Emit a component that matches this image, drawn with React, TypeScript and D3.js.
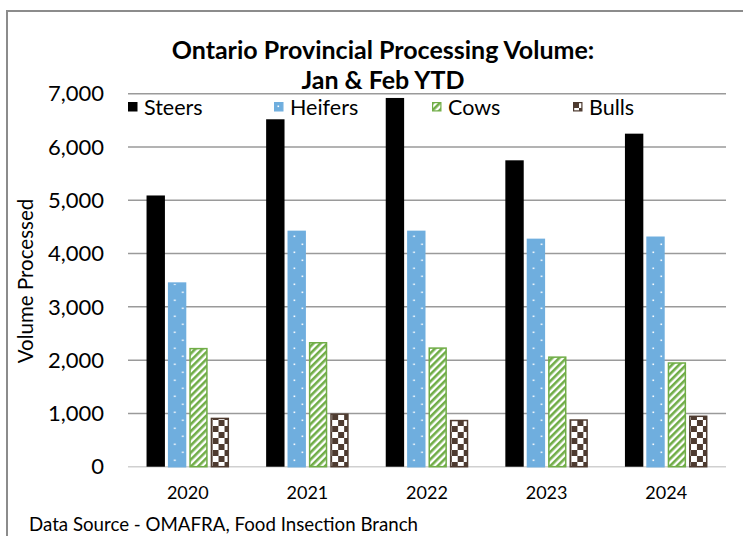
import { useMemo } from "react";
import { scaleBand, scaleLinear, format } from "d3";

const YEARS = ["2020", "2021", "2022", "2023", "2024"];
const SERIES = ["Steers", "Heifers", "Cows", "Bulls"];
const STEERS = [5090, 6520, 6920, 5750, 6250];
const HEIFERS = [3460, 4430, 4430, 4280, 4320];
const COWS = [2230, 2340, 2240, 2070, 1960];
const BULLS = [920, 1000, 880, 890, 960];
const Y_TICKS = [0, 1000, 2000, 3000, 4000, 5000, 6000, 7000];
const TITLE = ["Ontario Provincial Processing Volume:", "Jan & Feb YTD"];

const W = 743;
const H = 536;
const PLOT = { left: 128, right: 726, top: 93.7, bottom: 466.7 };
const FONT = "Lato, 'Open Sans', sans-serif";

const FILLS = ["#000000", "url(#dots)", "url(#stripes)", "url(#checks)"];
const STROKES = ["#000000", "#6FAEDE", "#70AD47", "#4E3B30"];
const LEGEND_X = [128, 274, 432, 573];

export default function App() {
  const values = [STEERS, HEIFERS, COWS, BULLS];

  const { x, xs, y } = useMemo(() => {
    const x = scaleBand<string>()
      .domain(YEARS)
      .range([PLOT.left, PLOT.right])
      .paddingInner(0.31)
      .paddingOuter(0.155);
    const xs = scaleBand<string>()
      .domain(SERIES)
      .range([0, x.bandwidth()])
      .paddingInner(0.14);
    const y = scaleLinear().domain([0, 7000]).range([PLOT.bottom, PLOT.top]);
    return { x, xs, y };
  }, []);

  const fmt = format(",");

  return (
    <svg
      width={W}
      height={H}
      viewBox={`0 0 ${W} ${H}`}
      style={{ position: "absolute", left: 0, top: 0, background: "#fff" }}
      fontFamily={FONT}
    >
      <defs>
        <pattern id="dots" width={16} height={16} patternUnits="userSpaceOnUse">
          <rect width={16} height={16} fill="#6FAEDE" />
          <rect x={3.5} y={3.5} width={1.6} height={1.6} fill="#fff" />
          <rect x={11.5} y={11.5} width={1.6} height={1.6} fill="#fff" />
        </pattern>
        <pattern
          id="stripes"
          width={5}
          height={5}
          patternUnits="userSpaceOnUse"
          patternTransform="rotate(45)"
        >
          <rect width={5} height={5} fill="#fff" />
          <rect width={2.6} height={5} fill="#70AD47" />
        </pattern>
        <pattern id="checks" width={12} height={12} patternUnits="userSpaceOnUse">
          <rect width={12} height={12} fill="#fff" />
          <rect width={6} height={6} fill="#4E3B30" />
          <rect x={6} y={6} width={6} height={6} fill="#4E3B30" />
        </pattern>
      </defs>

      {/* chart border */}
      <rect x={7} y={11} width={W + 10} height={H + 10} fill="none" stroke="#8c8c8c" strokeWidth={2} />

      {/* title, two lines */}
      {TITLE.map((line, i) => (
        <text
          key={line}
          x={383}
          y={58.5 + i * 30}
          textAnchor="middle"
          fontSize={25}
          fontWeight="bold"
          fill="#000"
        >
          {line}
        </text>
      ))}

      {/* grid and y labels */}
      {Y_TICKS.map((t) => (
        <g key={t}>
          <line
            x1={PLOT.left}
            x2={PLOT.right}
            y1={y(t)}
            y2={y(t)}
            stroke={t === 0 ? "#d0d0d0" : "#9a9a9a"}
            strokeWidth={1.5}
          />
          <text x={104} y={y(t)} dy="0.35em" textAnchor="end" fontSize={22} fill="#000">
            {fmt(t)}
          </text>
        </g>
      ))}

      {/* bars */}
      {YEARS.map((yr, i) => (
        <g key={yr} transform={`translate(${x(yr)},0)`}>
          {SERIES.map((s, k) => {
            const v = values[k][i];
            const inset = k === 0 ? 0 : 0.75;
            return (
              <rect
                key={s}
                x={(xs(s) ?? 0) + inset}
                y={y(v) + inset}
                width={xs.bandwidth() - inset * 2}
                height={y(0) - y(v) - inset}
                fill={FILLS[k]}
                stroke={k === 0 ? "none" : STROKES[k]}
                strokeWidth={1.5}
              />
            );
          })}
        </g>
      ))}

      {/* x labels */}
      {YEARS.map((yr) => (
        <text
          key={yr}
          x={(x(yr) ?? 0) + x.bandwidth() / 2}
          y={498.5}
          textAnchor="middle"
          fontSize={18}
          fill="#000"
        >
          {yr}
        </text>
      ))}

      {/* legend */}
      {SERIES.map((s, k) => (
        <g key={s} transform={`translate(${LEGEND_X[k]},102)`}>
          <rect
            x={k === 0 ? 0 : 0.6}
            y={k === 0 ? 0 : 0.6}
            width={k === 0 ? 9.5 : 8.3}
            height={k === 0 ? 9.5 : 8.3}
            fill={FILLS[k]}
            stroke={k === 0 ? "none" : STROKES[k]}
            strokeWidth={1.2}
          />
          <text x={16} y={5} dy="0.35em" fontSize={21.5} fill="#000">
            {s}
          </text>
        </g>
      ))}

      {/* y axis title */}
      <text
        transform="translate(33,281) rotate(-90)"
        textAnchor="middle"
        fontSize={20.5}
        fill="#000"
      >
        Volume Processed
      </text>

      {/* source */}
      <text x={29} y={530.5} fontSize={18.7} fill="#000">
        Data Source - OMAFRA, Food Insection Branch
      </text>
    </svg>
  );
}
